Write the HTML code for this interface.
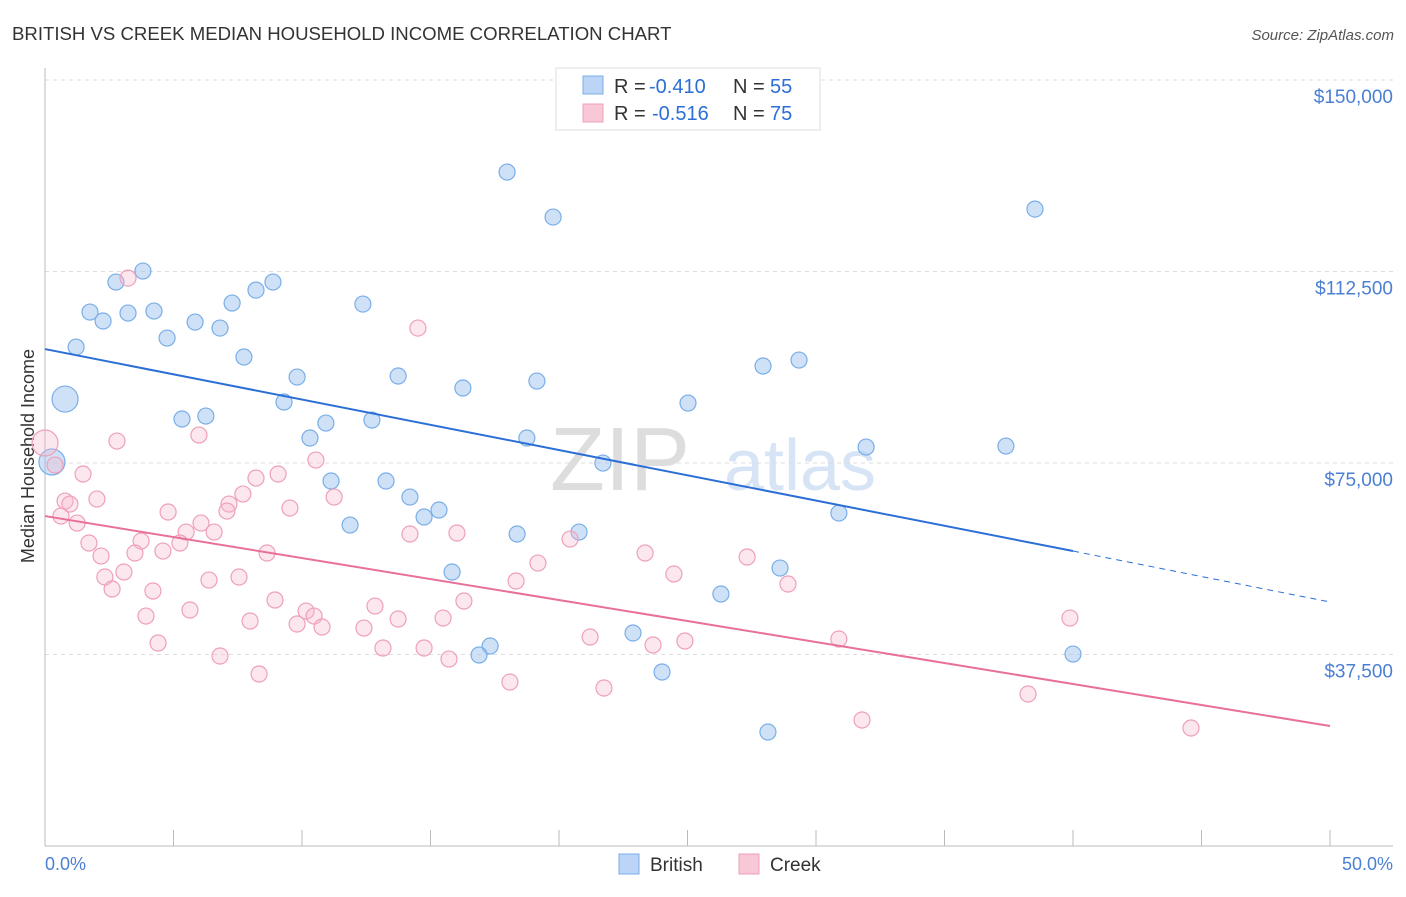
<!DOCTYPE html>
<html><head><meta charset="utf-8"><style>
body{margin:0;background:#fff;font-family:"Liberation Sans",sans-serif;}
svg text{font-family:"Liberation Sans",sans-serif;}
</style></head><body>
<svg width="1406" height="892" id="chart">
<text x="12" y="40" font-size="18.6" fill="#333">BRITISH VS CREEK MEDIAN HOUSEHOLD INCOME CORRELATION CHART</text>
<text x="1394" y="40" font-size="15" fill="#555" font-style="italic" text-anchor="end">Source: ZipAtlas.com</text>
<text x="620" y="490" font-size="90" fill="#ddd" font-family="Liberation Serif" text-anchor="middle">ZIP</text>
<text x="800" y="490" font-size="72" fill="#d6e4f5" text-anchor="middle">atlas</text>
<text transform="translate(34,456) rotate(-90)" font-size="18" fill="#333" text-anchor="middle">Median Household Income</text>
<g id="grid"></g><g id="axes"></g><g id="pts"></g><g id="lines"></g>
<g>
<rect x="556" y="68" width="264" height="62" fill="#fff" stroke="#ddd"/>
<rect x="583" y="76" width="20" height="18" fill="#bcd4f6" stroke="#7aaee8"/>
<rect x="583" y="104" width="20" height="18" fill="#f9c8d6" stroke="#eea0b8"/>
<text x="614" y="93" font-size="20" fill="#333">R =</text>
<text x="649" y="93" font-size="20" fill="#2b6fd6">-0.410</text>
<text x="733" y="93" font-size="20" fill="#333">N =</text>
<text x="770" y="93" font-size="20" fill="#2b6fd6">55</text>
<text x="614" y="120" font-size="20" fill="#333">R =</text>
<text x="652" y="120" font-size="20" fill="#2b6fd6">-0.516</text>
<text x="733" y="120" font-size="20" fill="#333">N =</text>
<text x="770" y="120" font-size="20" fill="#2b6fd6">75</text>
</g>
<g>
<rect x="619" y="854" width="20" height="20" fill="#bcd4f6" stroke="#7aaee8"/>
<text x="650" y="871" font-size="19" fill="#333">British</text>
<rect x="739" y="854" width="20" height="20" fill="#f9c8d6" stroke="#eea0b8"/>
<text x="770" y="871" font-size="19" fill="#333">Creek</text>
</g>
<text x="45" y="870" font-size="18" fill="#4a7fd4">0.0%</text>
<text x="1393" y="870" font-size="18" fill="#4a7fd4" text-anchor="end">50.0%</text>
</svg>
<script>
const yTicks=[37500,75000,112500,150000];
const yTickLabels=["$37,500","$75,000","$112,500","$150,000"];
const britishX=[17.98,19.77,38.52,3.81,2.76,8.87,8.21,1.75,3.23,4.24,7.28,12.37,2.26,5.84,6.81,4.75,1.21,7.74,27.94,29.34,0.78,9.81,13.74,16.26,19.14,9.30,25.02,5.33,6.26,10.93,12.72,10.31,18.75,31.95,37.39,0.27,21.71,11.13,13.27,14.20,15.33,14.75,30.89,11.87,18.37,20.78,15.84,28.60,26.30,22.88,17.32,16.89,40.00,24.01,28.13];
const britishY=[131970,123160,124720,112590,110430,110430,108860,104560,104360,104750,106320,106120,102800,102600,101420,99470,97700,95750,93990,95160,87520,91830,92030,89680,91050,86940,86740,83610,84190,82820,83410,79890,79890,78120,78320,75190,74990,71470,71470,68330,65790,64420,65200,62850,61090,61480,53650,54430,49340,41710,39160,37400,37590,34070,22320];
const britishBig=[20,35];
const creekX=[0,0.39,1.48,3.23,14.51,2.80,5.99,10.54,9.07,8.21,0.78,2.02,0.97,0.62,1.25,4.79,7.70,7.16,9.53,11.25,7.08,6.07,5.49,6.58,1.71,3.74,5.25,2.18,3.50,4.59,8.64,14.20,16.03,20.43,19.18,23.35,27.32,3.07,2.33,6.38,7.55,18.33,24.47,28.91,2.61,4.20,8.95,16.30,5.64,3.93,10.16,10.47,12.84,7.98,9.81,10.78,12.41,13.74,15.49,39.88,4.40,6.81,13.15,14.75,15.72,21.21,23.66,24.90,30.89,8.33,18.09,21.75,31.79,38.25,44.59];
const creekY=[78910,74600,72840,111210,101420,79300,80470,75580,72840,72050,67550,67940,66960,64610,63240,65400,68920,66960,66180,68330,65590,63240,61480,61480,59330,59720,59330,56780,57370,57760,57370,61090,61290,60110,55410,57370,56590,53650,52670,52080,52670,51890,53260,51300,50320,49930,48170,47970,46210,45030,46010,45030,46990,44060,43470,42880,42680,44450,44640,44640,39750,37200,38770,38770,36610,40920,39360,40140,40530,33680,32110,30940,24670,29760,23100];
const creekBig=[0];
const britishTrend=[[0,97310],[40,57760]];
const britishTrendDash=[[40,57760],[50,47780]];
const creekTrend=[[0,64610],[50,23500]];
const NS="http://www.w3.org/2000/svg";
const xs=v=>45+v/50*1285;
const ys=v=>846-v/37500*191.5;
function mk(t,a,p){const e=document.createElementNS(NS,t);for(const k in a)e.setAttribute(k,a[k]);p.appendChild(e);return e;}
const grid=document.getElementById('grid'),axes=document.getElementById('axes'),pts=document.getElementById('pts'),lines=document.getElementById('lines');
yTicks.forEach((v,i)=>{
 const l=mk('line',{x1:45,x2:1393,y1:ys(v),y2:ys(v),stroke:'#ddd','stroke-dasharray':'4,4'},grid);
 
 
 const t=mk('text',{x:1393,y:ys(v)+23,'font-size':19,fill:'#4a7fd4','text-anchor':'end'},axes);
 t.textContent=yTickLabels[i];
 
 
});
const ax=mk('line',{x1:45,x2:1393,y1:846,y2:846,stroke:'#bbb'},axes);


const ay=mk('line',{x1:45,x2:45,y1:68,y2:846,stroke:'#bbb'},axes);


for(let i=0;i<=10;i++){const tk=mk('line',{x1:xs(i*5),x2:xs(i*5),y1:830,y2:846,stroke:'#bbb'},axes);
 
 }
function drawPts(X,Y,big,fill,stroke,name){X.forEach((x,i)=>{
 const c=mk('circle',{cx:xs(x),cy:ys(Y[i]),r:big.includes(i)?13:8,fill:fill,stroke:stroke,'stroke-width':1.2},pts);
 
 });}
drawPts(britishX,britishY,britishBig,'rgba(160,196,240,0.5)','#7aaee8','british-point');
drawPts(creekX,creekY,creekBig,'rgba(246,185,205,0.35)','#eea0b8','creek-point');
function ln(p,c,w,d,name){const l=mk('line',{x1:xs(p[0][0]),y1:ys(p[0][1]),x2:xs(p[1][0]),y2:ys(p[1][1]),stroke:c,'stroke-width':w},lines);
 if(d)l.setAttribute('stroke-dasharray',d);
 
 }
ln(britishTrend,'#2b6fd6',2,null,'british-trendline');
ln(britishTrendDash,'#2b6fd6',1,'6,5','british-trendline-extension');
ln(creekTrend,'#e8709a',2,null,'creek-trendline');
</script>
</body></html>
